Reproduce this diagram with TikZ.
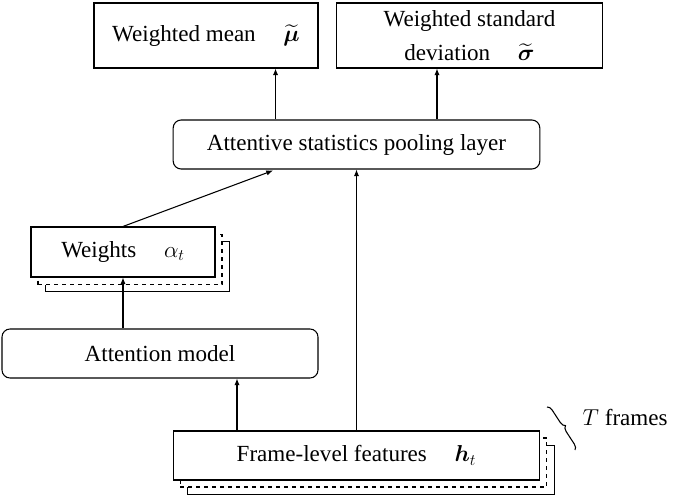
\documentclass[tikz,border=0pt]{standalone}
\usepackage{amsmath,amssymb}
\usepackage{bm}
\usepackage{fontspec}
\setmainfont{Liberation Serif}
\usetikzlibrary{arrows.meta,positioning,calc,decorations.pathreplacing}
\newcommand{\symgap}{\hspace{1.2em}}
\tikzset{
  plainbox/.style={draw=black,fill=white,line width=0.8pt,
                   align=center,inner sep=2pt,
                   font=\fontsize{17.3}{26}\selectfont},
  roundbox/.style={plainbox,rounded corners=6pt},
  backbox/.style={draw=black,fill=white,line width=0.8pt,inner sep=0pt},
  upflow/.style={-{Latex[length=5pt,width=4pt]},line width=0.8pt},
  tbrace/.style={decorate,decoration={brace,amplitude=4pt},line width=0.8pt}
}
\begin{document}
\begin{tikzpicture}[x=0.75pt,y=-0.75pt]
  \useasboundingbox (0,0) rectangle (676,496);
  % outputs
  \node[plainbox,minimum width=168pt,minimum height=48.75pt] (mean) at (206,35.5)
    {Weighted mean\symgap$\widetilde{\bm{\mu}}$};
  \node[plainbox,minimum width=200pt,minimum height=48.75pt] (std) at (469.5,35.5)
    {Weighted standard\\deviation\symgap$\widetilde{\bm{\sigma}}$};
  % pooling
  \node[roundbox,minimum width=275pt,minimum height=36.75pt] (pool) at (356.5,144.5)
    {Attentive statistics pooling layer};
  % weights, stacked over T frames
  \node[backbox,minimum width=138pt,minimum height=37.5pt] (wts3) at (137.5,266.5) {};
  \node[backbox,dashed,minimum width=138pt,minimum height=37.5pt] (wts2) at (130,259.5) {};
  \node[plainbox,minimum width=138pt,minimum height=37.5pt] (wts) at (123,252)
    {Weights\symgap$\alpha_t$};
  \node[roundbox,minimum width=237pt,minimum height=36.75pt] (att) at (160,353.5)
    {Attention model};
  % frame-level features, stacked
  \node[backbox,minimum width=275pt,minimum height=36.75pt] (feat3) at (371,470) {};
  \node[backbox,dashed,minimum width=275pt,minimum height=36.75pt] (feat2) at (363.5,462.5) {};
  \node[plainbox,minimum width=275pt,minimum height=36.75pt] (feat) at (356.5,455.5)
    {Frame-level features\symgap$\bm{h}_t$};
  \coordinate (bracetop) at (547,407);
  \coordinate (bracebot) at (575,450);
  \draw[tbrace] (bracetop) -- (bracebot);
  \node[font=\fontsize{17.3}{20}\selectfont,anchor=west] (frames) at (578,417) {$T$ frames};

  \draw[upflow] (pool.north -| mean.north east) ++(-43,0) coordinate (p1) -- (p1 |- mean.south);
  \draw[upflow] (pool.north -| std.south) ++(-32.5,0) coordinate (p2) -- (p2 |- std.south);
  \draw[upflow] (wts.north) -- ($(pool.south)+(-83.5,1)$);
  \draw[upflow] (att.north -| wts.south) -- (wts.south);
  \draw[upflow] (feat.north -| 237,0) coordinate (f1) -- (f1 |- att.south);
  \draw[upflow] (feat.north) -- (pool.south);
\end{tikzpicture}
\end{document}
